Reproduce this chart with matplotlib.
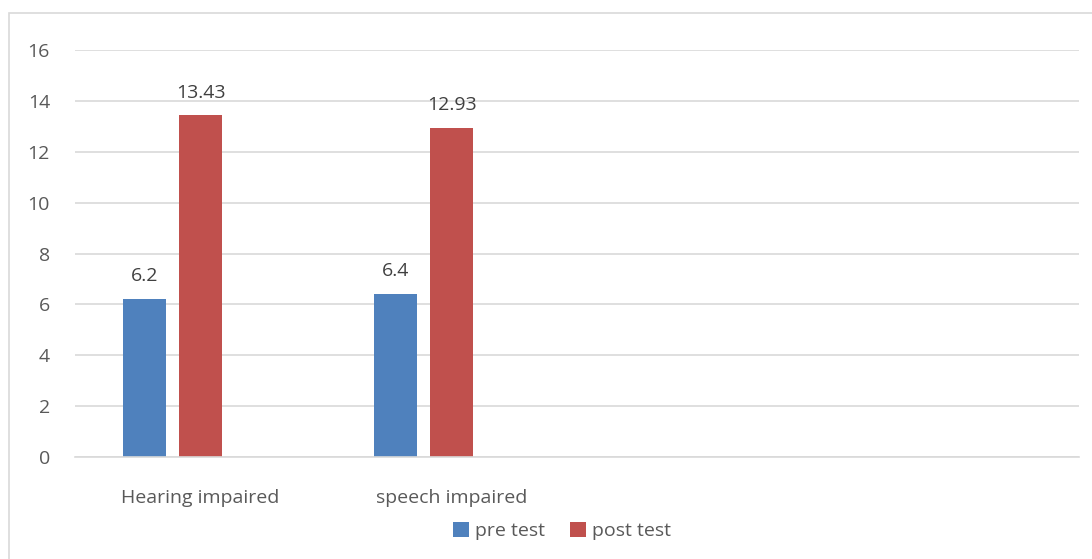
import numpy as np
import matplotlib.pyplot as plt
from matplotlib.patches import Rectangle

categories = ['Hearing impaired', 'speech impaired', '', '']
pre_test = [6.2, 6.4]
post_test = [13.43, 12.93]
series_names = ['pre test', 'post test']

plt.rcParams['font.family'] = ['Open Sans', 'DejaVu Sans']
text_color = '#595959'
grid_color = '#D9D9D9'
fs = 14

fig = plt.figure(figsize=(10.92, 5.59), dpi=100)
ax = fig.add_axes([0.0687, 0.1825, 0.9194, 0.728])

# outer chart border
fig.patches.append(Rectangle((9 / 1092, -0.1), 1.2, 1 - 13 / 559 + 0.1,
                             transform=fig.transFigure, fill=False,
                             edgecolor=grid_color, linewidth=1.2))

x = np.arange(len(pre_test))
w = 0.171
b1 = ax.bar(x - 0.223, pre_test, w, color='#4F81BD', label=series_names[0])
b2 = ax.bar(x, post_test, w, color='#C0504D', label=series_names[1])

for bars, vals in [(b1, pre_test), (b2, post_test)]:
    for r, v in zip(bars, vals):
        ax.annotate(f'{v:g}', (r.get_x() + r.get_width() / 2, v),
                    xytext=(0, 10), textcoords='offset points',
                    ha='center', va='bottom', fontsize=fs, color='#404040')

ax.set_xlim(-0.5, len(categories) - 0.5)
ax.set_ylim(0, 16)
ax.set_yticks(range(0, 17, 2))
ax.set_xticks(range(len(categories)))
ax.set_xticklabels(categories)
ax.yaxis.grid(True, color=grid_color, linewidth=1.2)
ax.set_axisbelow(True)
for s in ['top', 'right', 'left']:
    ax.spines[s].set_visible(False)
ax.spines['bottom'].set_color(grid_color)
ax.spines['bottom'].set_linewidth(1.2)
ax.tick_params(axis='both', length=0, labelsize=fs, colors=text_color)
ax.tick_params(axis='x', pad=23)
ax.tick_params(axis='y', pad=18)

fig.legend(handles=[b1, b2], loc='center', bbox_to_anchor=(562 / 1092, 1 - 531 / 559),
           ncol=2, frameon=False, fontsize=fs, labelcolor=text_color,
           handlelength=0.8, handleheight=0.8, handletextpad=0.3, columnspacing=1.3)

fig.savefig('out.png', dpi=100)
